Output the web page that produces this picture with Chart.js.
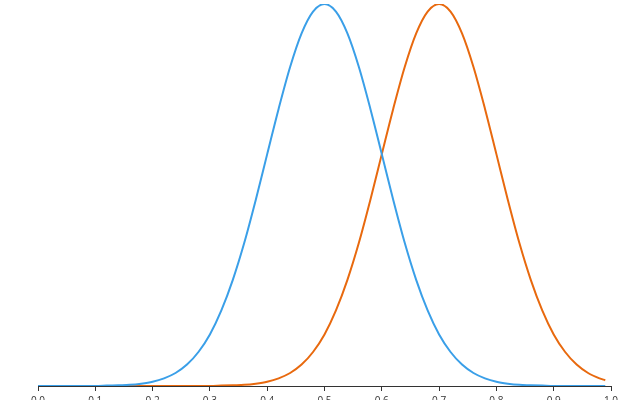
<!DOCTYPE html>
<html lang="en">
<head>
  <meta charset="UTF-8" />
  <title>Two normal curves</title>
  <script src="https://cdn.jsdelivr.net/npm/chart.js"></script>
  <style>
    body { margin: 0; background: #fff; }
    #wrap { width: 640px; height: 400px; }
  </style>
</head>
<body>
  <div id="wrap"><canvas id="curves" width="640" height="400"></canvas></div>

  <script>
    // x positions sampled along the axis
    const xValues = [0.00, 0.02, 0.04, 0.06, 0.08, 0.10, 0.12, 0.14, 0.16, 0.18,
                     0.20, 0.22, 0.24, 0.26, 0.28, 0.30, 0.32, 0.34, 0.36, 0.38,
                     0.40, 0.42, 0.44, 0.46, 0.48, 0.50, 0.52, 0.54, 0.56, 0.58,
                     0.60, 0.62, 0.64, 0.66, 0.68, 0.70, 0.72, 0.74, 0.76, 0.78,
                     0.80, 0.82, 0.84, 0.86, 0.88, 0.90, 0.92, 0.94, 0.96, 0.98, 0.99];

    // blue curve, peak at 0.5
    const blueValues = [0, 0, 0, 0, 0, 0, 0.001, 0.002, 0.003, 0.006,
                        0.011, 0.020, 0.034, 0.056, 0.089, 0.135, 0.198, 0.278, 0.375, 0.487,
                        0.607, 0.726, 0.835, 0.923, 0.980, 1.000, 0.980, 0.923, 0.835, 0.726,
                        0.607, 0.487, 0.375, 0.278, 0.198, 0.135, 0.089, 0.056, 0.034, 0.020,
                        0.011, 0.006, 0.003, 0.002, 0.001, 0, 0, 0, 0, 0, 0];

    // orange curve, peak at 0.7
    const orangeValues = [0, 0, 0, 0, 0, 0, 0, 0, 0, 0,
                          0, 0, 0, 0, 0, 0, 0.001, 0.002, 0.003, 0.006,
                          0.011, 0.020, 0.034, 0.056, 0.089, 0.135, 0.198, 0.278, 0.375, 0.487,
                          0.607, 0.726, 0.835, 0.923, 0.980, 1.000, 0.980, 0.923, 0.835, 0.726,
                          0.607, 0.487, 0.375, 0.278, 0.198, 0.135, 0.089, 0.056, 0.034, 0.020, 0.015];

    const toPoints = ys => xValues.map((x, i) => ({ x: x, y: ys[i] }));

    new Chart(document.getElementById('curves').getContext('2d'), {
      type: 'line',
      data: {
        datasets: [
          { data: toPoints(blueValues), borderColor: '#3a9fe8', borderWidth: 2,
            pointRadius: 0, fill: false, cubicInterpolationMode: 'monotone' },
          { data: toPoints(orangeValues), borderColor: '#e8690e', borderWidth: 2,
            pointRadius: 0, fill: false, cubicInterpolationMode: 'monotone' }
        ]
      },
      options: {
        responsive: false,
        animation: false,
        layout: { padding: { top: 4, left: 38, right: 29, bottom: 0 } },
        plugins: { legend: { display: false }, tooltip: { enabled: false } },
        scales: {
          x: {
            type: 'linear', min: 0, max: 1,
            border: { display: true, color: '#333', width: 1 },
            grid: { drawOnChartArea: false, tickLength: 5, color: '#333' },
            ticks: {
              stepSize: 0.1, padding: 4, color: '#333', maxRotation: 0,
              font: { family: 'Open Sans', size: 10 },
              callback: v => v.toFixed(1)
            },
            afterFit: s => { s.height = 14; }
          },
          y: { display: false, min: 0, max: 1 }
        }
      }
    });
  </script>
</body>
</html>
